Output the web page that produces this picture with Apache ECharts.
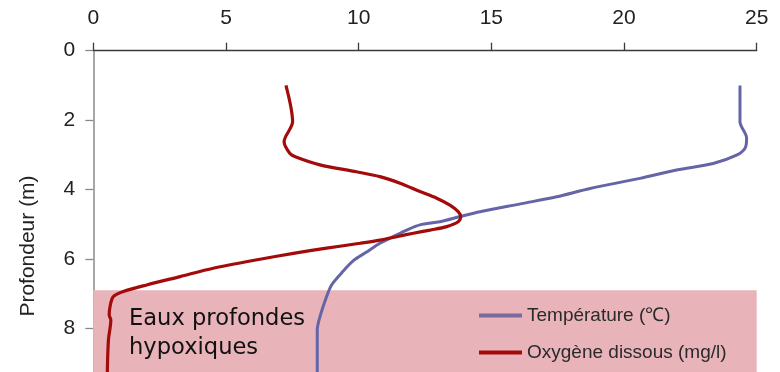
<!DOCTYPE html>
<html>
<head>
<meta charset="utf-8">
<script src="https://cdn.jsdelivr.net/npm/echarts@6/dist/echarts.min.js"></script>
<style>
  html, body { margin: 0; padding: 0; background: #ffffff; }
  #chart { width: 780px; height: 372px; }
</style>
</head>
<body>
<div id="chart"></div>
<script>
// Vertical profile of a water column: temperature and dissolved oxygen vs depth
const xTicks = [0, 5, 10, 15, 20, 25];
const depthTicks = [0, 2, 4, 6, 8, 10];

const tempDepth = [1.00, 2.05, 2.52, 2.81, 3.01, 3.25, 3.44, 3.68, 3.97, 4.21, 4.40, 4.64, 4.78, 4.93, 5.02, 5.17, 5.36, 5.55, 5.80, 6.05, 6.41, 6.75, 7.09, 7.67, 8.05, 9.20, 10.0];
const tempValues = [24.37, 24.37, 24.62, 24.56, 24.24, 23.36, 21.98, 20.60, 18.72, 17.46, 16.20, 14.57, 13.82, 13.06, 12.31, 11.81, 11.30, 10.80, 10.30, 9.80, 9.35, 8.98, 8.79, 8.54, 8.44, 8.44, 8.44];

const oxyDepth = [1.00, 2.05, 2.62, 2.96, 3.07, 3.29, 3.49, 3.63, 3.82, 4.06, 4.25, 4.45, 4.64, 4.78, 4.93, 5.07, 5.17, 5.26, 5.36, 5.46, 5.55, 5.69, 5.84, 6.01, 6.27, 6.51, 6.75, 6.94, 7.09, 7.38, 7.62, 7.76, 8.34, 9.20, 10.0];
const oxyValues = [7.26, 7.51, 7.19, 7.41, 7.66, 8.54, 9.92, 10.80, 11.56, 12.31, 12.94, 13.44, 13.75, 13.84, 13.75, 13.32, 12.69, 12.06, 11.43, 10.80, 10.05, 8.79, 7.54, 6.28, 4.52, 3.27, 2.01, 1.13, 0.75, 0.63, 0.60, 0.66, 0.57, 0.53, 0.52];

// Hypoxic bottom layer
const hypoxicTop = 6.9;
const hypoxicBottom = 10;

const seriesNames = ['Température (℃)', 'Oxygène dissous (mg/l)'];
const zoneLabel = 'Eaux profondes\nhypoxiques';
const depthTitle = 'Profondeur (m)';

const pairs = (vals, depths) => vals.map((v, i) => [v, depths[i]]);

const chart = echarts.init(document.getElementById('chart'), null, { renderer: 'canvas' });

chart.setOption({
  animation: false,
  backgroundColor: '#ffffff',
  grid: { left: 93.3, top: 50.7, width: 663.4, height: 347, containLabel: false, outerBoundsMode: 'none' },
  xAxis: {
    type: 'value',
    position: 'top',
    min: xTicks[0],
    max: xTicks[xTicks.length - 1],
    interval: 5,
    splitLine: { show: false },
    axisLine: { lineStyle: { color: '#3a3a3a', width: 1.3 } },
    axisTick: { show: true, length: 8, lineStyle: { color: '#3a3a3a', width: 1.3 } },
    axisLabel: { fontSize: 21, color: '#222', fontFamily: 'Liberation Sans, Arial, sans-serif', margin: 22 }
  },
  yAxis: {
    type: 'value',
    inverse: true,
    min: depthTicks[0],
    max: depthTicks[depthTicks.length - 1],
    interval: 2,
    splitLine: { show: false },
    axisLine: { lineStyle: { color: '#8a8a8a', width: 1.5 } },
    axisTick: { show: true, length: 8, lineStyle: { color: '#8a8a8a', width: 1.3 } },
    axisLabel: { fontSize: 21, color: '#222', fontFamily: 'Liberation Sans, Arial, sans-serif', margin: 18 }
  },
  legend: {
    orient: 'vertical',
    left: 479,
    top: 306,
    padding: 0,
    itemWidth: 43,
    itemHeight: 4,
    itemGap: 18,
    icon: 'rect',
    textStyle: { fontSize: 19, color: '#2a2a2a', fontFamily: 'Liberation Sans, Arial, sans-serif' },
    data: seriesNames
  },
  graphic: [
    {
      type: 'text',
      x: 28, y: 246,
      rotation: Math.PI / 2,
      style: {
        text: depthTitle,
        font: '21px "Liberation Sans", Arial, sans-serif',
        fill: '#222',
        align: 'center',
        verticalAlign: 'middle'
      }
    },
    {
      type: 'text',
      x: 129, y: 305,
      z: 10,
      style: {
        text: zoneLabel,
        font: '22.6px "DejaVu Sans", sans-serif',
        lineHeight: 29,
        fill: '#111'
      }
    }
  ],
  series: [
    {
      name: seriesNames[0],
      type: 'line',
      data: pairs(tempValues, tempDepth),
      showSymbol: false,
      smooth: 0.3,
      z: 3,
      lineStyle: { color: '#6464a6', width: 3 },
      itemStyle: { color: '#7a6a9e' }
    },
    {
      name: seriesNames[1],
      type: 'line',
      data: pairs(oxyValues, oxyDepth),
      showSymbol: false,
      smooth: 0.3,
      z: 3,
      lineStyle: { color: '#a30a0a', width: 3.2 },
      itemStyle: { color: '#a30a0a' },
      markArea: {
        silent: true,
        z: 1,
        itemStyle: { color: '#e8b4b9', opacity: 1 },
        data: [[{ xAxis: 0, yAxis: hypoxicTop }, { xAxis: 25, yAxis: hypoxicBottom }]]
      }
    }
  ]
});
</script>
</body>
</html>
